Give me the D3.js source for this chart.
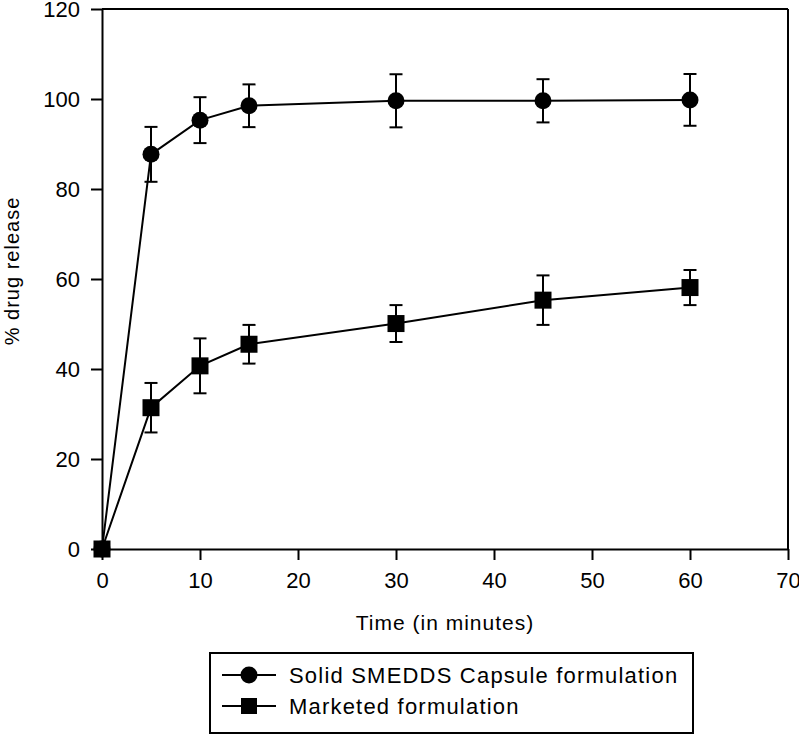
<!DOCTYPE html>
<html>
<head>
<meta charset="utf-8">
<script src="https://cdn.jsdelivr.net/npm/d3@7"></script>
<style>
  body { margin: 0; background: #fff; }
  svg { display: block; font-family: "Liberation Sans", Arial, sans-serif; }
</style>
</head>
<body>
<svg id="chart" width="799" height="735"></svg>
<script>
const times = [0, 5, 10, 15, 30, 45, 60];
const smeddsMean = [0, 87.7, 95.3, 98.5, 99.6, 99.6, 99.8];
const smeddsErr  = [0, 6.1, 5.1, 4.75, 5.9, 4.8, 5.75];
const marketedMean = [0, 31.4, 40.7, 45.5, 50.1, 55.3, 58.1];
const marketedErr  = [0, 5.5, 6.1, 4.3, 4.1, 5.5, 3.9];
const xTicks = [0, 10, 20, 30, 40, 50, 60, 70];
const yTicks = [0, 20, 40, 60, 80, 100, 120];
const seriesNames = ["Solid SMEDDS Capsule formulation", "Marketed formulation"];
const xTitle = "Time (in minutes)";
const yTitle = "% drug release";

(function () {
const svg = d3.select("#chart");
const pL = 102, pR = 788, pT = 9, pB = 549;
const x = d3.scaleLinear().domain([0, 70]).range([pL, pR]);
const y = d3.scaleLinear().domain([0, 120]).range([pB, pT]);

// frame top and right
svg.append("line").attr("x1", pL).attr("x2", pR).attr("y1", pT).attr("y2", pT)
  .attr("stroke", "#000").attr("stroke-width", 2);
svg.append("line").attr("x1", pR).attr("x2", pR).attr("y1", pT).attr("y2", pB)
  .attr("stroke", "#000").attr("stroke-width", 2);

const xAxis = svg.append("g").attr("transform", `translate(0,${pB})`)
  .call(d3.axisBottom(x).tickValues(xTicks).tickSize(11).tickPadding(12).tickSizeOuter(0));
const yAxis = svg.append("g").attr("transform", `translate(${pL},0)`)
  .call(d3.axisLeft(y).tickValues(yTicks).tickSize(11).tickPadding(11).tickSizeOuter(0));
[xAxis, yAxis].forEach(g => {
  g.selectAll("path, line").attr("stroke", "#000").attr("stroke-width", 2);
  g.selectAll("text").attr("font-size", 22).attr("fill", "#000")
    .attr("font-family", '"Liberation Sans", Arial, sans-serif');
});

svg.append("text").attr("x", (pL + pR) / 2).attr("y", 630)
  .attr("text-anchor", "middle").attr("font-size", 21).attr("letter-spacing", 1)
  .text(xTitle);
svg.append("text").attr("transform", `translate(19,${(pT + pB) / 2 - 8}) rotate(-90)`)
  .attr("text-anchor", "middle").attr("font-size", 20).attr("letter-spacing", 1)
  .text(yTitle);

const line = d3.line().x(d => x(d.t)).y(d => y(d.v));
function drawSeries(means, errs, shape) {
  const data = times.map((t, i) => ({ t, v: means[i], e: errs[i] }));
  const g = svg.append("g");
  g.append("path").datum(data).attr("d", line).attr("fill", "none")
    .attr("stroke", "#000").attr("stroke-width", 2);
  const eb = g.selectAll(".eb").data(data.filter(d => d.e > 0)).enter().append("g");
  eb.append("line").attr("x1", d => x(d.t)).attr("x2", d => x(d.t))
    .attr("y1", d => y(d.v + d.e)).attr("y2", d => y(d.v - d.e))
    .attr("stroke", "#000").attr("stroke-width", 2);
  [1, -1].forEach(s => {
    eb.append("line").attr("x1", d => x(d.t) - 6.5).attr("x2", d => x(d.t) + 6.5)
      .attr("y1", d => y(d.v + s * d.e)).attr("y2", d => y(d.v + s * d.e))
      .attr("stroke", "#000").attr("stroke-width", 2);
  });
  if (shape === "circle") {
    g.selectAll(".m").data(data).enter().append("circle")
      .attr("cx", d => x(d.t)).attr("cy", d => y(d.v)).attr("r", 8.5).attr("fill", "#000");
  } else {
    g.selectAll(".m").data(data).enter().append("rect")
      .attr("x", d => x(d.t) - 8.5).attr("y", d => y(d.v) - 8.5)
      .attr("width", 17).attr("height", 17).attr("fill", "#000");
  }
}
drawSeries(smeddsMean, smeddsErr, "circle");
drawSeries(marketedMean, marketedErr, "square");

// legend
const lg = svg.append("g");
lg.append("rect").attr("x", 210).attr("y", 653).attr("width", 483).attr("height", 80)
  .attr("fill", "#fff").attr("stroke", "#000").attr("stroke-width", 2);
const rows = [675, 706];
seriesNames.forEach((name, i) => {
  const cy = rows[i];
  lg.append("line").attr("x1", 222).attr("x2", 276).attr("y1", cy).attr("y2", cy)
    .attr("stroke", "#000").attr("stroke-width", 2);
  if (i === 0) lg.append("circle").attr("cx", 249).attr("cy", cy).attr("r", 8.5).attr("fill", "#000");
  else lg.append("rect").attr("x", 241).attr("y", cy - 8).attr("width", 16).attr("height", 16).attr("fill", "#000");
  lg.append("text").attr("x", 289).attr("y", cy + 8).attr("font-size", 22)
    .attr("letter-spacing", 1.2).text(name);
});
})();
</script>
</body>
</html>
